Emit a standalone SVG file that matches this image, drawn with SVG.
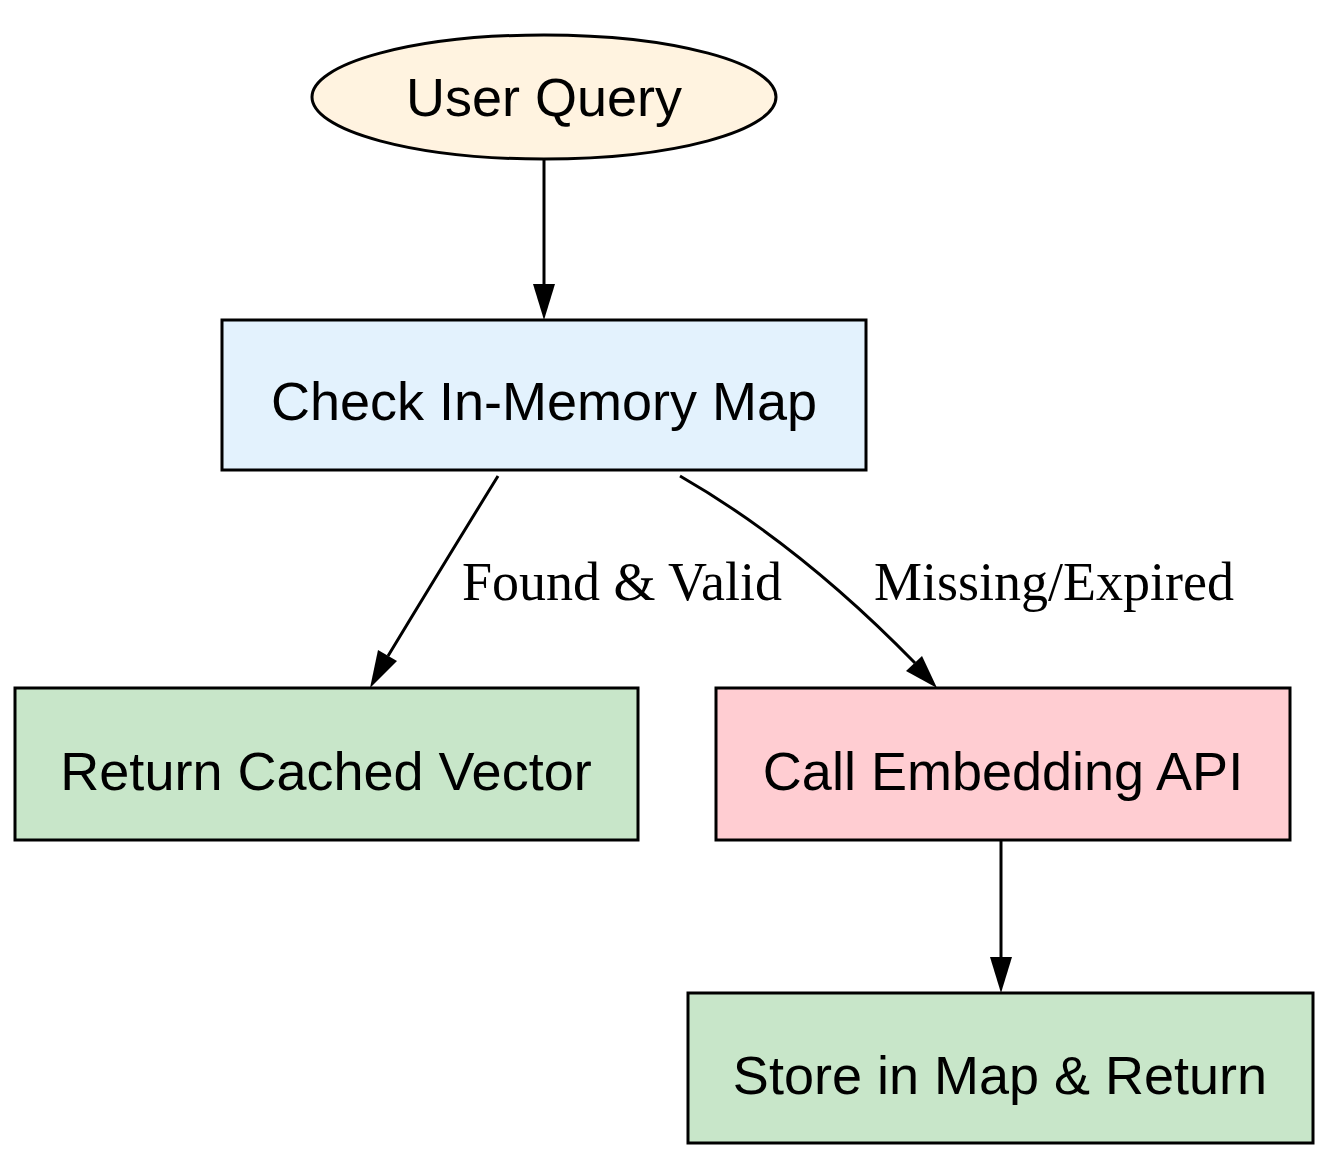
<svg xmlns="http://www.w3.org/2000/svg" width="1333" height="1160" viewBox="0 0 1333 1160">
<style>
.n{stroke:#000;stroke-width:3}
.t{font-family:"Liberation Sans",Arial,sans-serif;font-size:54px;text-anchor:middle}
.l{font-family:"Liberation Serif","Times New Roman",serif;font-size:54px;text-anchor:middle}
.e{fill:none;stroke:#000;stroke-width:3}
</style>
<defs><marker id="a" markerWidth="12" markerHeight="12" refX="10" refY="5" orient="auto" markerUnits="userSpaceOnUse" viewBox="0 0 10 10"><path d="M0,0L10,5L0,10z"/></marker></defs>
<rect width="1333" height="1160" fill="#fff"/>
<g id="connectors">
<path class="e" d="M544,160V284"/><path d="M533,284L544,320L555,284z"/>
<path class="e" d="M498,476Q440,570 388,656"/><path d="M378,650L370,688L397,661z"/>
<path class="e" d="M680,476Q800,545 915,663"/><path d="M906,671L937,688L922,656z"/>
<path class="e" d="M1001,840V957"/><path d="M990,957L1001,993L1012,957z"/>
<text class="l" x="622" y="600">Found &amp; Valid</text>
<text class="l" x="1054" y="600">Missing/Expired</text>
</g>
<g id="user"><ellipse class="n" cx="544" cy="97" rx="232" ry="62" fill="#fff3e0"/><text class="t" x="544" y="116">User Query</text></g>
<g id="check"><rect class="n" x="222" y="320" width="644" height="150" fill="#e3f2fd"/><text class="t" x="544" y="420">Check In-Memory Map</text></g>
<g id="return"><rect class="n" x="15" y="688" width="623" height="152" fill="#c8e6c9"/><text class="t" x="326" y="790">Return Cached Vector</text></g>
<g id="call"><rect class="n" x="716" y="688" width="574" height="152" fill="#ffcdd2"/><text class="t" x="1003" y="790">Call Embedding API</text></g>
<g id="store"><rect class="n" x="688" y="993" width="625" height="150" fill="#c8e6c9"/><text class="t" x="1000" y="1094">Store in Map &amp; Return</text></g>
</svg>
